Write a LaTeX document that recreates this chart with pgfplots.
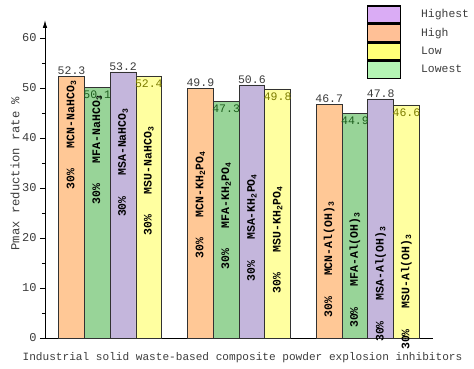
\documentclass[border=0pt]{standalone}
\usepackage{fontspec}
\setmainfont{Liberation Mono}
\usepackage{pgfplots}
\pgfplotsset{compat=1.18}
\usetikzlibrary{arrows.meta}
\definecolor{cOr}{RGB}{255,200,150}
\definecolor{cGr}{RGB}{152,212,152}
\definecolor{cPu}{RGB}{196,182,220}
\definecolor{cYe}{RGB}{255,255,160}
\definecolor{lHi}{RGB}{218,172,245}
\definecolor{lHg}{RGB}{255,192,150}
\definecolor{lLo}{RGB}{255,255,120}
\definecolor{lLw}{RGB}{180,245,180}
\definecolor{txt}{RGB}{60,60,60}
\definecolor{tGr}{RGB}{30,95,30}
\definecolor{tYe}{RGB}{125,125,0}
\definecolor{edge}{RGB}{50,50,50}
\newcommand{\fsz}[1]{\fontsize{#1}{#1}\selectfont}
\begin{document}
\begin{tikzpicture}
\begin{axis}[
  at={(0,0)}, anchor=south west,
  scale only axis, width=388bp, height=318bp,
  xmin=-1.03, xmax=14.03, ymin=0, ymax=63.6,
  axis x line=bottom, axis y line=left,
  x axis line style={-, line width=0.9bp},
  y axis line style={-{Latex[length=8bp,width=4.5bp]}, line width=0.9bp},
  clip=false,
  xtick=\empty,
  ytick={0,10,...,60}, minor y tick num=1,
  tick align=outside, major tick length=5bp, minor tick length=3bp,
  tick style={black, line width=0.8bp},
  /pgf/number format/assume math mode=true,
  /pgf/number format/fixed, /pgf/number format/precision=1,
  yticklabel style={font=\fsz{12bp}, text=txt},
  ylabel={Pmax reduction rate \%},
  ylabel style={font=\fsz{12.2bp}, text=txt, at={(axis description cs:-0.077,0.517)}, anchor=center},
  xlabel={Industrial solid waste-based composite powder explosion inhibitors},
  xlabel style={font=\fsz{11.1bp}, text=txt, at={(axis description cs:0.509,-0.062)}, anchor=center},
  legend image code/.code={\draw[#1, draw=black, line width=1.5bp] (0bp,-8.5bp) rectangle (33bp,8.5bp);},
  legend cell align=left,
  legend style={at={(axis description cs:0.829,1.047)}, anchor=north west, draw=none, fill=none,
    row sep=0pt, column sep=20bp, inner sep=0pt, outer sep=0pt,
    nodes={inner sep=0pt, font=\fsz{11.4bp}, text=txt, minimum height=18bp}},
  every axis plot/.append style={forget plot},
]
% bars
\addplot[ybar, bar width=1, bar shift=0pt, fill=cOr, draw=edge, line width=0.8bp,
  nodes near coords, every node near coord/.style={anchor=south, inner sep=1bp, font=\fsz{11.5bp}, text=txt}]
  coordinates {(0,52.3) (5,49.9) (10,46.7)};
\addplot[ybar, bar width=1, bar shift=0pt, fill=cGr, draw=edge, line width=0.8bp,
  nodes near coords, every node near coord/.style={anchor=north, yshift=-2bp, inner sep=1bp, font=\fsz{11.5bp}, text=tGr}]
  coordinates {(1,50.1) (6,47.3) (11,44.9)};
\addplot[ybar, bar width=1, bar shift=0pt, fill=cPu, draw=edge, line width=0.8bp,
  nodes near coords, every node near coord/.style={anchor=south, inner sep=1bp, font=\fsz{11.5bp}, text=txt}]
  coordinates {(2,53.2) (7,50.6) (12,47.8)};
\addplot[ybar, bar width=1, bar shift=0pt, fill=cYe, draw=edge, line width=0.8bp,
  nodes near coords, every node near coord/.style={anchor=north, yshift=-2bp, inner sep=1bp, font=\fsz{11.5bp}, text=tYe}]
  coordinates {(3,52.4) (8,49.8) (13,46.6)};
% inner labels
\addplot[draw=none, mark=none, nodes near coords, point meta=explicit symbolic,
  every node near coord/.style={rotate=90, anchor=center, inner sep=0pt, font=\fsz{11.5bp}\bfseries, text=black}]
  coordinates {
  (0,40.6) [30\%\ \ \ MCN-NaHCO\textsubscript{3}]
  (1,37.6) [30\%\ \ \ MFA-NaHCO\textsubscript{3}]
  (2,35.1) [30\%\ \ \ MSA-NaHCO\textsubscript{3}]
  (3,31.4) [30\%\ \ \ MSU-NaHCO\textsubscript{3}]
  (5,26.6) [30\%\ \ \ MCN-KH\textsubscript{2}PO\textsubscript{4}]
  (6,24.4) [30\%\ \ \ MFA-KH\textsubscript{2}PO\textsubscript{4}]
  (7,22.1) [30\%\ \ \ MSA-KH\textsubscript{2}PO\textsubscript{4}]
  (8,19.6) [30\%\ \ \ MSU-KH\textsubscript{2}PO\textsubscript{4}]
  (10,15.7) [30\%\ \ \ MCN-Al(OH)\textsubscript{3}]
  (11,13.6) [30\%\ \ \ MFA-Al(OH)\textsubscript{3}]
  (12,10.8) [30\%\ \ \ MSA-Al(OH)\textsubscript{3}]
  (13,9.2) [30\%\ \ \ MSU-Al(OH)\textsubscript{3}]
  };
% legend
\addlegendimage{fill=lHi}\addlegendentry{Highest}
\addlegendimage{fill=lHg}\addlegendentry{High}
\addlegendimage{fill=lLo}\addlegendentry{Low}
\addlegendimage{fill=lLw}\addlegendentry{Lowest}
\end{axis}
\pgfresetboundingbox
\useasboundingbox (-45bp,-31bp) rectangle (429bp,338bp);
\end{tikzpicture}
\end{document}
